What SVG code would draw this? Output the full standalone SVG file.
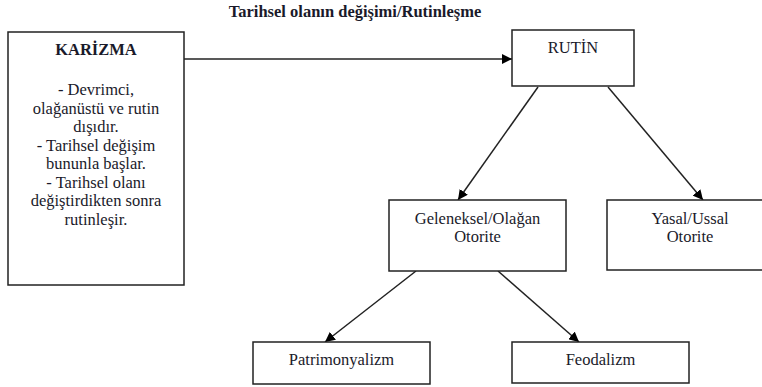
<svg xmlns="http://www.w3.org/2000/svg" width="762" height="387" viewBox="0 0 762 387">
<style>
.box{fill:#fff;stroke:#222;stroke-width:1.5}
text{font-family:"Liberation Serif","Times New Roman",serif}
.t{font-size:16.5px;fill:#1a1a2a;text-anchor:middle}
.b{font-weight:bold}
.c{stroke:#222;stroke-width:1.5;fill:none;marker-end:url(#ah)}
</style>
<defs>
<marker id="ah" viewBox="0 0 10 10" refX="10" refY="5" markerWidth="10" markerHeight="10" markerUnits="userSpaceOnUse" orient="auto">
<path d="M0,0 L10,5 L0,10 z" fill="#000"/>
</marker>
</defs>
<text class="t b" x="355" y="17">Tarihsel olanın değişimi/Rutinleşme</text>
<g id="connectors">
<line class="c" x1="184" y1="59" x2="512" y2="59"/>
<line class="c" x1="538" y1="87" x2="458" y2="200"/>
<line class="c" x1="608" y1="87" x2="703" y2="200"/>
<line class="c" x1="416" y1="271" x2="325" y2="342"/>
<line class="c" x1="498" y1="271" x2="579" y2="342"/>
</g>
<g id="karizma">
<rect class="box" x="8" y="32" width="176" height="253"/>
<text class="t b" x="96" y="55">KARİZMA</text>
<text class="t" x="96" y="95">- Devrimci,</text>
<text class="t" x="96" y="113.5">olağanüstü ve rutin</text>
<text class="t" x="96" y="132">dışıdır.</text>
<text class="t" x="96" y="150.5">- Tarihsel değişim</text>
<text class="t" x="96" y="169">bununla başlar.</text>
<text class="t" x="96" y="187.5">- Tarihsel olanı</text>
<text class="t" x="96" y="206">değiştirdikten sonra</text>
<text class="t" x="96" y="224.5">rutinleşir.</text>
</g>
<g id="rutin">
<rect class="box" x="512" y="30" width="122" height="56"/>
<text class="t" x="573" y="53">RUTİN</text>
</g>
<g id="geleneksel">
<rect class="box" x="389" y="200" width="177" height="71"/>
<text class="t" x="477.5" y="223.5">Geleneksel/Olağan</text>
<text class="t" x="477.5" y="242">Otorite</text>
</g>
<g id="yasal">
<rect class="box" x="607" y="200" width="166" height="70"/>
<text class="t" x="690" y="223.5">Yasal/Ussal</text>
<text class="t" x="690" y="242">Otorite</text>
</g>
<g id="patrimonyalizm">
<rect class="box" x="253" y="342" width="177" height="42"/>
<text class="t" x="341.5" y="365">Patrimonyalizm</text>
</g>
<g id="feodalizm">
<rect class="box" x="512" y="342" width="177" height="41"/>
<text class="t" x="600.5" y="365">Feodalizm</text>
</g>
</svg>
